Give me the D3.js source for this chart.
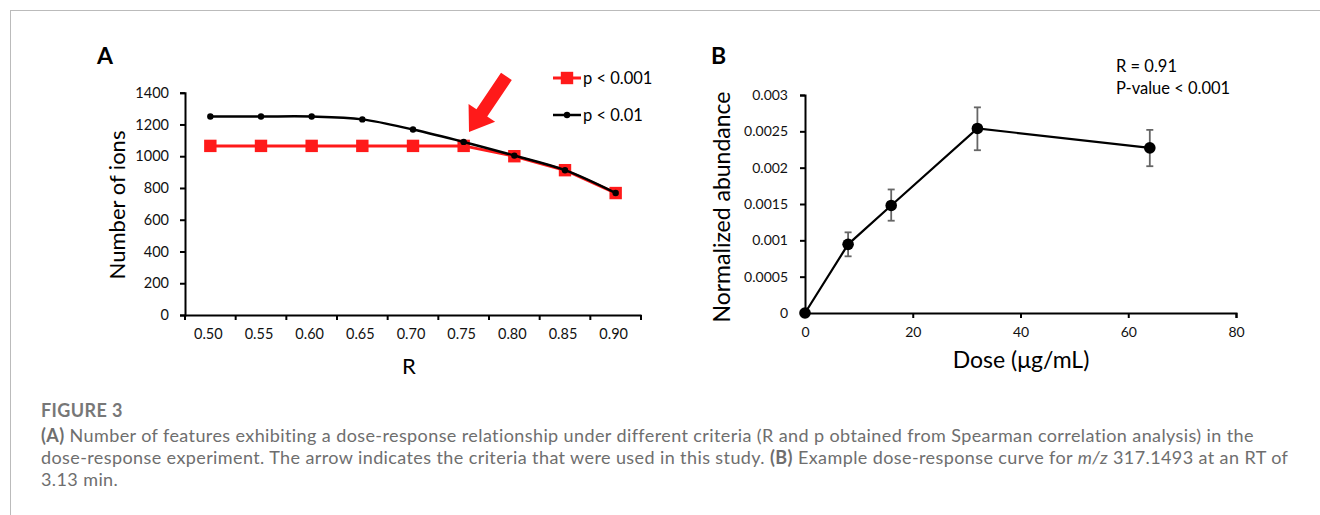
<!DOCTYPE html>
<html>
<head>
  <meta charset="utf-8">
  <title>Figure 3</title>
  <script src="https://cdn.jsdelivr.net/npm/d3@7/dist/d3.min.js"></script>
  <style>
    body { margin: 0; background: #fff; }
    svg text { font-family: Lato, "Open Sans", sans-serif; }
    .cap { font-family: Lato, sans-serif; fill: #6e6e6e; font-size: 18px; letter-spacing: 0.4px; }
  </style>
</head>
<body>
  <svg width="1320" height="515" id="mainsvg"></svg>
  <script>
    // panel A data
    const rCats = ['0.50', '0.55', '0.60', '0.65', '0.70', '0.75', '0.80', '0.85', '0.90'];
    const p001 = [1065, 1065, 1065, 1065, 1065, 1065, 1000, 912, 768];
    const p01 = [1250, 1250, 1250, 1232, 1168, 1090, 1004, 912, 768];
    const ionTicks = [0, 200, 400, 600, 800, 1000, 1200, 1400];

    // panel B data
    const doses = [0, 8, 16, 32, 64];
    const abundance = [0, 0.000945, 0.00148, 0.00254, 0.002272];
    const errLow = [0, 0.00078, 0.00127, 0.00224, 0.00202];
    const errHigh = [0, 0.00111, 0.0017, 0.00283, 0.00252];
    const abTicks = [0, 0.0005, 0.001, 0.0015, 0.002, 0.0025, 0.003];
    const doseTicks = [0, 20, 40, 60, 80];

    const svg = d3.select('#mainsvg');

    // frame lines
    svg.append('line').attr('x1', 10).attr('x2', 1320).attr('y1', 10.5).attr('y2', 10.5)
      .attr('stroke', '#bbb');
    svg.append('line').attr('x1', 10.5).attr('x2', 10.5).attr('y1', 10).attr('y2', 515)
      .attr('stroke', '#bbb');

    // ---------- Panel A ----------
    const xA = d3.scaleBand().domain(rCats).range([185, 641]);
    const yA = d3.scaleLinear().domain([0, 1400]).range([315, 92.7]);
    const gA = svg.append('g');

    const axA_y = gA.append('g').attr('transform', 'translate(185,0)')
      .call(d3.axisLeft(yA).tickValues(ionTicks).tickSize(5).tickPadding(11).tickFormat(d3.format('d')));
    const axA_x = gA.append('g').attr('transform', 'translate(0,315)')
      .call(d3.axisBottom(xA).tickSize(0).tickPadding(14));
    // boundary tick marks between categories
    axA_x.selectAll('.bnd').data(d3.range(rCats.length + 1)).join('line')
      .attr('class', 'bnd')
      .attr('x1', i => 185 + i * xA.step()).attr('x2', i => 185 + i * xA.step())
      .attr('y1', 0).attr('y2', 5).attr('stroke', '#000').attr('stroke-width', 2);
    [axA_y, axA_x].forEach(a => {
      a.select('.domain').attr('stroke-width', 2);
      a.selectAll('.tick line').attr('stroke-width', 2);
      a.selectAll('text').attr('font-size', 14.5).attr('fill', '#111');
    });
    axA_x.selectAll('.tick text').attr('dx', -2);

    const cx = d => xA(d) + xA.bandwidth() / 2;
    const lineRed = d3.line().x((d, i) => cx(rCats[i])).y(d => yA(d));
    const lineBlack = d3.line().x((d, i) => cx(rCats[i])).y(d => yA(d)).curve(d3.curveCatmullRom);

    gA.append('path').datum(p001).attr('d', lineRed)
      .attr('fill', 'none').attr('stroke', '#ff1a1a').attr('stroke-width', 3);
    gA.selectAll('.sq').data(p001).join('rect').attr('class', 'sq')
      .attr('x', (d, i) => cx(rCats[i]) - 6.2).attr('y', d => yA(d) - 6.2)
      .attr('width', 12.4).attr('height', 12.4).attr('fill', '#ff1a1a');
    gA.append('path').datum(p01).attr('d', lineBlack)
      .attr('fill', 'none').attr('stroke', '#000').attr('stroke-width', 2.5);
    gA.selectAll('.dot').data(p01).join('circle').attr('class', 'dot')
      .attr('cx', (d, i) => cx(rCats[i])).attr('cy', d => yA(d)).attr('r', 3.2).attr('fill', '#000');

    // legend
    const lg = gA.append('g');
    lg.append('line').attr('x1', 553).attr('x2', 581).attr('y1', 78).attr('y2', 78)
      .attr('stroke', '#ff1a1a').attr('stroke-width', 3);
    lg.append('rect').attr('x', 560.8).attr('y', 71.8).attr('width', 12.4).attr('height', 12.4).attr('fill', '#ff1a1a');
    lg.append('text').attr('x', 583).attr('y', 84).attr('font-size', 16.5).text('p < 0.001');
    lg.append('line').attr('x1', 553).attr('x2', 581).attr('y1', 115).attr('y2', 115)
      .attr('stroke', '#000').attr('stroke-width', 2.5);
    lg.append('circle').attr('cx', 567).attr('cy', 115).attr('r', 3.2);
    lg.append('text').attr('x', 583).attr('y', 121).attr('font-size', 16.5).text('p < 0.01');

    // arrow
    const ang = Math.atan2(132 - 77, 468 - 505);
    const arrow = gA.append('g')
      .attr('transform', `translate(469,132) rotate(${ang * 180 / Math.PI + 180})`);
    arrow.append('path')
      .attr('d', 'M0,0 L23,-16 L23,-6.5 L67,-6.5 L67,6.5 L23,6.5 L23,16 Z')
      .attr('fill', '#ff1a1a');

    gA.append('text').attr('x', 97).attr('y', 64).attr('font-size', 23).attr('font-weight', 'bold')
      .attr('font-family', 'Liberation Sans, Arial').text('A');
    gA.append('text').attr('transform', 'translate(125,205) rotate(-90)').attr('text-anchor', 'middle')
      .attr('font-size', 22).text('Number of ions');
    gA.append('text').attr('x', 409).attr('y', 374).attr('text-anchor', 'middle')
      .attr('font-size', 22).text('R');

    // ---------- Panel B ----------
    const xB = d3.scaleLinear().domain([0, 80]).range([805, 1236]);
    const yB = d3.scaleLinear().domain([0, 0.003]).range([313, 95]);
    const gB = svg.append('g');

    const axB_y = gB.append('g').attr('transform', 'translate(805,0)')
      .call(d3.axisLeft(yB).tickValues(abTicks).tickSize(5).tickPadding(12).tickFormat(d => String(+d.toFixed(4))));
    const axB_x = gB.append('g').attr('transform', 'translate(0,313)')
      .call(d3.axisBottom(xB).tickValues(doseTicks).tickSize(5).tickPadding(9));
    [axB_y, axB_x].forEach(a => {
      a.select('.domain').attr('stroke-width', 2);
      a.selectAll('.tick line').attr('stroke-width', 2);
      a.selectAll('text').attr('font-size', 14).attr('fill', '#111');
    });

    const pts = doses.map((d, i) => ({ x: d, y: abundance[i], lo: errLow[i], hi: errHigh[i] }));
    gB.append('path').datum(pts)
      .attr('d', d3.line().x(d => xB(d.x)).y(d => yB(d.y)))
      .attr('fill', 'none').attr('stroke', '#000').attr('stroke-width', 2.2);
    const eb = gB.selectAll('.eb').data(pts.filter(d => d.hi > d.lo)).join('g').attr('class', 'eb')
      .attr('stroke', '#666').attr('stroke-width', 1.8);
    eb.append('line').attr('x1', d => xB(d.x)).attr('x2', d => xB(d.x))
      .attr('y1', d => yB(d.lo)).attr('y2', d => yB(d.hi));
    eb.append('line').attr('x1', d => xB(d.x) - 3.5).attr('x2', d => xB(d.x) + 3.5)
      .attr('y1', d => yB(d.lo)).attr('y2', d => yB(d.lo));
    eb.append('line').attr('x1', d => xB(d.x) - 3.5).attr('x2', d => xB(d.x) + 3.5)
      .attr('y1', d => yB(d.hi)).attr('y2', d => yB(d.hi));
    gB.selectAll('.pt').data(pts).join('circle').attr('class', 'pt')
      .attr('cx', d => xB(d.x)).attr('cy', d => yB(d.y)).attr('r', 5.8).attr('fill', '#000');

    gB.append('text').attr('x', 711).attr('y', 64).attr('font-size', 23).attr('font-weight', 'bold')
      .attr('font-family', 'Liberation Sans, Arial').text('B');
    gB.append('text').attr('transform', 'translate(730,207) rotate(-90)').attr('text-anchor', 'middle')
      .attr('font-size', 23).text('Normalized abundance');
    gB.append('text').attr('x', 1021).attr('y', 368).attr('text-anchor', 'middle')
      .attr('font-size', 23).text('Dose (μg/mL)');
    gB.append('text').attr('x', 1116).attr('y', 72).attr('font-size', 16.5).text('R = 0.91');
    gB.append('text').attr('x', 1116).attr('y', 94).attr('font-size', 16.5).text('P-value < 0.001');

    // ---------- caption ----------
    const cap = svg.append('g');
    cap.append('text').attr('class', 'cap').attr('x', 41).attr('y', 417)
      .attr('font-weight', 'bold').style('fill', '#777').text('FIGURE 3');
    const l1 = cap.append('text').attr('class', 'cap').attr('x', 41).attr('y', 442);
    l1.append('tspan').attr('font-weight', 'bold').text('(A)');
    l1.append('tspan').text(' Number of features exhibiting a dose-response relationship under different criteria (R and p obtained from Spearman correlation analysis) in the');
    const l2 = cap.append('text').attr('class', 'cap').attr('x', 41).attr('y', 464);
    l2.append('tspan').text('dose-response experiment. The arrow indicates the criteria that were used in this study. ');
    l2.append('tspan').attr('font-weight', 'bold').text('(B)');
    l2.append('tspan').text(' Example dose-response curve for ');
    l2.append('tspan').attr('font-style', 'italic').text('m/z');
    l2.append('tspan').text(' 317.1493 at an RT of');
    cap.append('text').attr('class', 'cap').attr('x', 41).attr('y', 486).text('3.13 min.');
  </script>
</body>
</html>
